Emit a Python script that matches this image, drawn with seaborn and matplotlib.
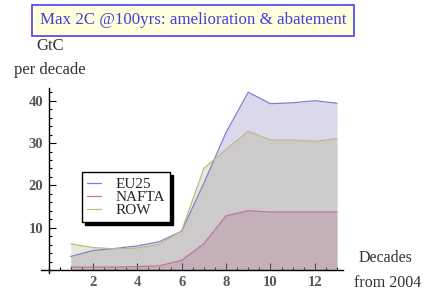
import numpy as np
import pandas as pd
import matplotlib
matplotlib.use("Agg")
import matplotlib.pyplot as plt
import seaborn as sns
from matplotlib.lines import Line2D
from matplotlib.ticker import MultipleLocator

decades = [1, 2, 3, 4, 5, 6, 7, 8, 9, 10, 11, 12, 13]
eu25 = [3.2, 4.6, 5.1, 5.7, 6.7, 9.2, 20.5, 32.5, 42.0, 39.3, 39.5, 40.0, 39.4]
nafta = [0.7, 0.7, 0.7, 0.8, 1.0, 2.3, 6.2, 12.8, 14.0, 13.7, 13.7, 13.7, 13.7]
row = [6.2, 5.3, 5.0, 5.2, 6.1, 9.3, 24.0, 28.5, 32.8, 30.7, 30.7, 30.4, 31.0]
series_names = ["EU25", "NAFTA", "ROW"]
title = "Max 2C @100yrs: amelioration & abatement"

sns.set_style("white")
plt.rcParams["font.family"] = ["Liberation Serif", "DejaVu Serif"]

df = pd.DataFrame({"decade": decades * 3,
                   "value": eu25 + nafta + row,
                   "region": ["EU25"] * 13 + ["NAFTA"] * 13 + ["ROW"] * 13})

line_colors = {"EU25": "#7f7fcc", "NAFTA": "#c0739a", "ROW": "#c2b77c"}
fill_colors = {"EU25": "#6b6bb3", "ROW": "#a6a06c", "NAFTA": "#a96484"}

fig = plt.figure(figsize=(4.24, 2.94), dpi=100)
ax = fig.add_axes([41 / 424, 21 / 294, 302 / 424, 185 / 294])

series = {"EU25": eu25, "NAFTA": nafta, "ROW": row}
for name in ["EU25", "ROW", "NAFTA"]:
    ax.fill_between(decades, 0, series[name], color=fill_colors[name], alpha=0.25, lw=0)

sns.lineplot(data=df, x="decade", y="value", hue="region", palette=line_colors,
             ax=ax, lw=0.9, legend=False)

ax.set_xlim(-0.34, 13.27)
ax.set_ylim(-0.7, 43)
ax.spines["left"].set_position(("data", 0))
ax.spines["bottom"].set_position(("data", 0))
ax.spines["top"].set_visible(False)
ax.spines["right"].set_visible(False)
for s in ["left", "bottom"]:
    ax.spines[s].set_color("black")
    ax.spines[s].set_linewidth(1.0)

ax.xaxis.set_major_locator(MultipleLocator(2))
ax.xaxis.set_minor_locator(MultipleLocator(0.5))
ax.yaxis.set_major_locator(MultipleLocator(10))
ax.yaxis.set_minor_locator(MultipleLocator(2))
ax.set_xticks([2, 4, 6, 8, 10, 12])
ax.set_yticks([10, 20, 30, 40])
ax.tick_params(which="both", direction="in", color="black", width=0.8,
               bottom=True, left=True, top=False, right=False)
ax.tick_params(which="major", length=5, labelsize=10.5, labelcolor="#555555", pad=4)
ax.tick_params(which="minor", length=2.5)
for lab in ax.get_xticklabels() + ax.get_yticklabels():
    lab.set_fontweight("bold")
ax.set_xlabel("")
ax.set_ylabel("")

fig.text(50 / 424, 1 - 46 / 294, "GtC", ha="center", va="center", fontsize=12, color="#333333")
fig.text(50 / 424, 1 - 70 / 294, "per decade", ha="center", va="center", fontsize=12, color="#333333")
fig.text(386 / 424, 1 - 258 / 294, "Decades", ha="center", va="center", fontsize=11.5, color="#333333")
fig.text(388 / 424, 1 - 283 / 294, "from 2004", ha="center", va="center", fontsize=11.5, color="#333333")

fig.text(193 / 424, 1 - 20.5 / 294, title, ha="center", va="center", fontsize=12.2,
         color="#4040e0",
         bbox=dict(boxstyle="square,pad=0.45", fc="#ffffdc", ec="#4444ee", lw=1.2))

handles = [Line2D([], [], color=line_colors[n], lw=0.9) for n in series_names]
leg = ax.legend(handles, series_names, loc="upper left",
                bbox_to_anchor=(82 / 424, 1 - 172 / 294), bbox_transform=fig.transFigure,
                frameon=True, fancybox=False, shadow={"color": "black", "alpha": 1.0},
                edgecolor="black", framealpha=1.0, fontsize=11,
                handlelength=0.9, handletextpad=0.95, labelspacing=-0.05,
                borderpad=0.35, borderaxespad=0)
leg.get_frame().set_linewidth(1.0)

fig.savefig("out.png", dpi=100)
